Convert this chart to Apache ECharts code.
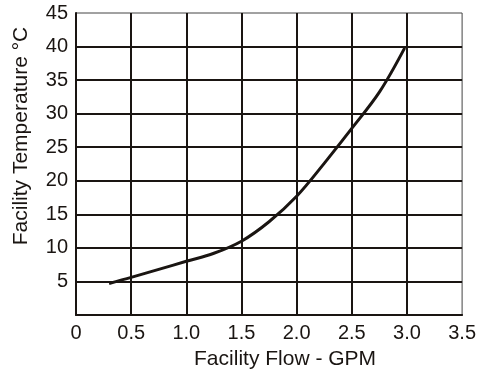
<!DOCTYPE html>
<html>
<head>
<meta charset="utf-8">
<script src="https://cdn.jsdelivr.net/npm/echarts@6/dist/echarts.min.js"></script>
<style>
  html, body { margin: 0; padding: 0; background: #fff; }
  #chart { width: 479px; height: 375px; }
</style>
</head>
<body>
<div id="chart"></div>
<script>
// flow (GPM) vs facility temperature (°C)
var FLOW = [0.3, 0.5, 0.75, 1.0, 1.25, 1.5, 1.75, 2.0, 2.25, 2.5, 2.75, 2.98];
var TEMP = [4.7, 5.6, 6.8, 8.0, 9.2, 11.0, 13.9, 17.7, 22.6, 27.8, 33.2, 39.8];

var X_TICKS = ['0', '0.5', '1.0', '1.5', '2.0', '2.5', '3.0', '3.5'];
var Y_TICKS = ['', '5', '10', '15', '20', '25', '30', '35', '40', '45'];

var INK = '#1a1512';
var FONT = 'Liberation Sans, Arial, sans-serif';

var chart = echarts.init(document.getElementById('chart'));

var pts = [];
for (var i = 0; i < FLOW.length; i++) {
    pts.push([FLOW[i], TEMP[i]]);
}

chart.setOption({
    animation: false,
    grid: {
        left: 76,
        right: 16,
        top: 13,
        bottom: 54,
        show: true,
        borderColor: '#444',
        borderWidth: 1
    },
    xAxis: {
        type: 'value',
        min: 0,
        max: 3.5,
        interval: 0.5,
        name: 'Facility Flow - GPM',
        nameLocation: 'middle',
        nameGap: 34,
        nameTextStyle: { color: INK, fontSize: 21, fontFamily: FONT, padding: [0, 0, 0, 32] },
        axisLine: { lineStyle: { color: INK, width: 2 } },
        axisTick: { show: false },
        axisLabel: {
            color: INK, fontSize: 20, fontFamily: FONT, margin: 8,
            formatter: function (v) { return X_TICKS[Math.round(v / 0.5)]; }
        },
        splitLine: { show: true, showMinLine: false, showMaxLine: false, lineStyle: { color: INK, width: 2 } }
    },
    yAxis: {
        type: 'value',
        min: 0,
        max: 45,
        interval: 5,
        name: 'Facility Temperature °C',
        nameLocation: 'middle',
        nameGap: 44,
        nameTextStyle: { color: INK, fontSize: 21, fontFamily: FONT, padding: [0, 0, 0, 56] },
        axisLine: { show: true, lineStyle: { color: INK, width: 2 } },
        axisTick: { show: false },
        axisLabel: {
            color: INK, fontSize: 20, fontFamily: FONT, margin: 8,
            formatter: function (v) { return Y_TICKS[Math.round(v / 5)]; }
        },
        splitLine: { show: true, showMinLine: false, showMaxLine: false, lineStyle: { color: INK, width: 2 } }
    },
    series: [{
        type: 'line',
        data: pts,
        smooth: 0.35,
        symbol: 'none',
        lineStyle: { color: INK, width: 3 }
    }]
});
</script>
</body>
</html>
